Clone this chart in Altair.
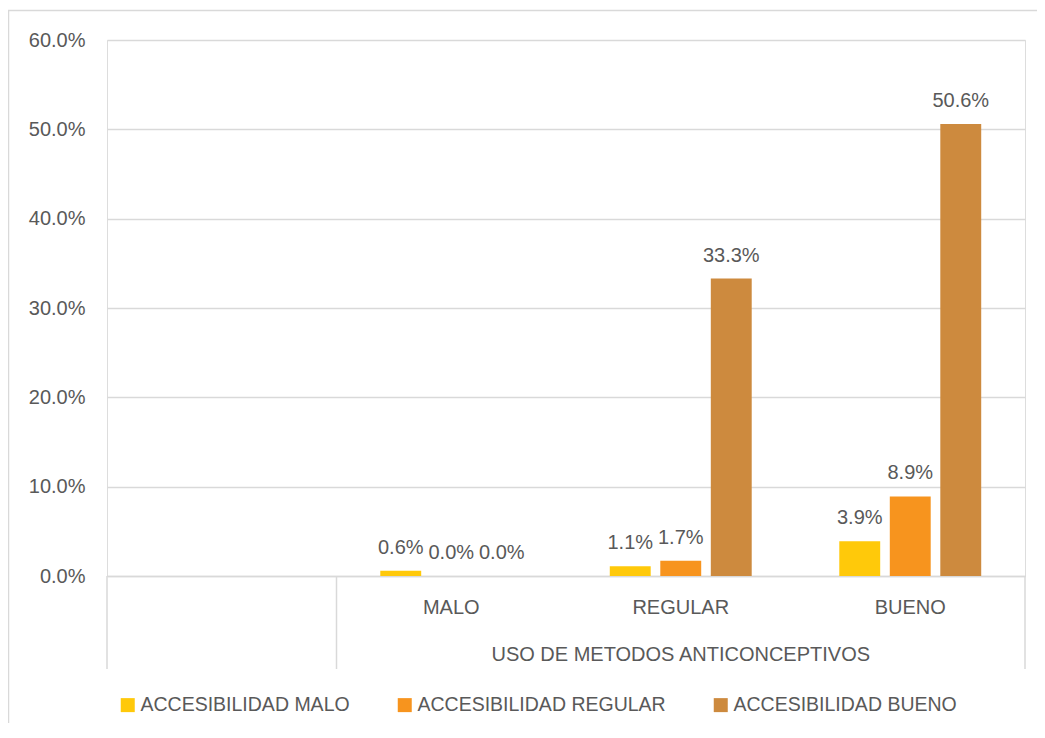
import altair as alt
import pandas as pd

# ---- data ----
x_slots = [" ", "MALO", "REGULAR", "BUENO"]          # first slot is blank in the original
categories = ["MALO", "REGULAR", "BUENO"]
series = ["ACCESIBILIDAD MALO", "ACCESIBILIDAD REGULAR", "ACCESIBILIDAD BUENO"]
acc_malo = [0.6, 1.1, 3.9]
acc_regular = [0.0, 1.7, 8.9]
acc_bueno = [0.0, 33.3, 50.6]
colors = ["#FFC90A", "#F7941E", "#CD8A3E"]
y_ticks = [0.0, 0.1, 0.2, 0.3, 0.4, 0.5, 0.6]
group_title = "USO DE METODOS ANTICONCEPTIVOS"

rows = []
for s, vals in zip(series, [acc_malo, acc_regular, acc_bueno]):
    for c, v in zip(categories, vals):
        rows.append({"cat": c, "serie": s, "value": v / 100})
df = pd.DataFrame(rows)

TEXT = "#595959"
GRID = "#D9D9D9"
FONT = "Liberation Sans"

x_axis = alt.Axis(title=None, labelAngle=0, ticks=False, domainColor=GRID, domainWidth=1.5,
                  labelFontSize=20, labelColor=TEXT, labelPadding=21, grid=False, labelFont=FONT)
x_scale = alt.Scale(domain=x_slots, paddingInner=0, paddingOuter=0)


def xenc(**kw):
    return alt.X("cat:N", scale=x_scale, axis=x_axis, sort=x_slots, **kw)


xoff = alt.XOffset("serie:N", scale=alt.Scale(domain=series, paddingInner=0.19, paddingOuter=0.867))

y_enc = alt.Y("value:Q", scale=alt.Scale(domain=[0, 0.6], nice=False),
              axis=alt.Axis(values=y_ticks, format=".1%", title=None, domain=False, ticks=False,
                            gridColor=GRID, gridWidth=1.3, labelPadding=22, labelFontSize=20,
                            labelColor=TEXT, labelFont=FONT))

frame = alt.Chart(pd.DataFrame({"a": [0]})).mark_rect(fill="transparent", stroke=GRID, strokeWidth=1.5).encode(
    x=alt.value(-98.5), x2=alt.value(960), y=alt.value(-29.5), y2=alt.value(760))

bars = alt.Chart(df).mark_bar().encode(
    x=xenc(), xOffset=xoff, y=y_enc,
    color=alt.Color("serie:N", scale=alt.Scale(domain=series, range=colors),
                    legend=alt.Legend(title=None, orient="none", legendX=11, legendY=655,
                                      direction="horizontal", symbolType="square", symbolSize=196,
                                      symbolStrokeWidth=0, labelFontSize=19.5, labelColor=TEXT,
                                      labelOffset=3, columnPadding=45, labelLimit=400,
                                      labelFont=FONT)))

labels = alt.Chart(df).mark_text(baseline="alphabetic", dy=-17, fontSize=20, color=TEXT, font=FONT).encode(
    x=xenc(), xOffset=xoff, y=y_enc, text=alt.Text("value:Q", format=".1%"))

sep_start = alt.Chart(pd.DataFrame({"cat": [" ", "MALO"]})).mark_rule(color=GRID, strokeWidth=1.5).encode(
    x=xenc(bandPosition=0), y=alt.value(536), y2=alt.value(629))
sep_end = alt.Chart(pd.DataFrame({"cat": ["BUENO"]})).mark_rule(color=GRID, strokeWidth=1.5).encode(
    x=xenc(bandPosition=1), y=alt.value(536), y2=alt.value(629))

group = alt.Chart(pd.DataFrame({"cat": ["REGULAR"], "t": [group_title]})).mark_text(
    baseline="middle", fontSize=20, color=TEXT, font=FONT).encode(
    x=xenc(), y=alt.value(615), text="t:N")

chart = alt.layer(frame, bars, labels, sep_start, sep_end, group).properties(
    width=918, height=536,
    autosize=alt.AutoSizeParams(type="none"),
    padding={"left": 99, "top": 32, "right": 12, "bottom": 147},
    background="white",
).configure_view(stroke=None).configure(font=FONT)

chart.save("out.html", embed_options={"renderer": "svg", "actions": False})
